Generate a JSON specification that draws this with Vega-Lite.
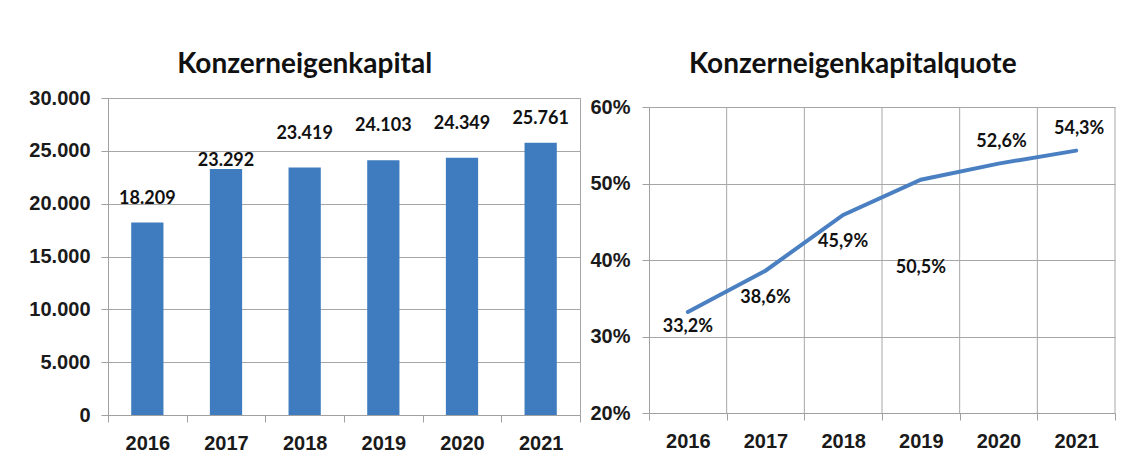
{
  "$schema": "https://vega.github.io/schema/vega-lite/v6.json",
  "padding": {"left": 28, "top": 50, "right": 5, "bottom": 5},
  "background": "white",
  "spacing": 8,
  "config": {
    "locale": {"number": {"decimal": ",", "thousands": ".", "grouping": [3], "currency": ["", " €"]}},
    "view": {"stroke": "#a6a6a6", "strokeWidth": 1},
    "title": {"font": "Lato", "fontSize": 28, "fontWeight": "bold", "color": "#111111", "anchor": "middle", "frame": "bounds"},
    "axis": {
      "labelFont": "Liberation Sans", "labelFontSize": 20, "labelFontWeight": "bold", "labelColor": "#1a1a1a",
      "domainColor": "#a0a0a0", "tickColor": "#a0a0a0", "gridColor": "#a6a6a6", "gridOpacity": 1,
      "tickSize": 7, "labelPadding": 11, "title": null
    },
    "text": {"font": "Lato", "fontSize": 18, "fontWeight": "bold", "color": "#111111"}
  },
  "hconcat": [
    {
      "width": 472, "height": 317,
      "title": {"text": "Konzerneigenkapital", "offset": 9},
      "data": {"values": [
        {"Jahr": "2016", "Eigenkapital": 18209},
        {"Jahr": "2017", "Eigenkapital": 23292},
        {"Jahr": "2018", "Eigenkapital": 23419},
        {"Jahr": "2019", "Eigenkapital": 24103},
        {"Jahr": "2020", "Eigenkapital": 24349},
        {"Jahr": "2021", "Eigenkapital": 25761}
      ]},
      "encoding": {
        "x": {"field": "Jahr", "type": "ordinal", "scale": {"type": "band", "paddingInner": 0, "paddingOuter": 0},
              "axis": {"labelAngle": 0, "tickBand": "extent", "grid": false}},
        "y": {"field": "Eigenkapital", "type": "quantitative", "scale": {"domain": [0, 30000], "nice": false},
              "axis": {"values": [0, 5000, 10000, 15000, 20000, 25000, 30000], "format": ",d", "grid": true}}
      },
      "layer": [
        {"mark": {"type": "bar", "width": {"band": 0.41}, "color": "#3F7CBF"}},
        {"transform": [{"filter": "datum.Jahr == '2017'"}],
         "mark": {"type": "text", "baseline": "alphabetic", "dy": -3},
         "encoding": {"text": {"field": "Eigenkapital", "type": "quantitative", "format": ",d"}}},
        {"transform": [{"filter": "datum.Jahr == '2016' || datum.Jahr == '2021'"}],
         "mark": {"type": "text", "baseline": "alphabetic", "dy": -19},
         "encoding": {"text": {"field": "Eigenkapital", "type": "quantitative", "format": ",d"}}},
        {"transform": [{"filter": "datum.Jahr == '2018' || datum.Jahr == '2019' || datum.Jahr == '2020'"}],
         "mark": {"type": "text", "baseline": "alphabetic", "dy": -29},
         "encoding": {"text": {"field": "Eigenkapital", "type": "quantitative", "format": ",d"}}}
      ]
    },
    {
      "width": 466, "height": 315,
      "title": {"text": "Konzerneigenkapitalquote", "offset": 18},
      "view": {"stroke": null},
      "data": {"values": [
        {"Jahr": "2016", "Quote": 0.332},
        {"Jahr": "2017", "Quote": 0.386},
        {"Jahr": "2018", "Quote": 0.459},
        {"Jahr": "2019", "Quote": 0.505},
        {"Jahr": "2020", "Quote": 0.526},
        {"Jahr": "2021", "Quote": 0.543}
      ]},
      "encoding": {
        "x": {"field": "Jahr", "type": "ordinal", "bandPosition": 0.5,
              "scale": {"type": "band", "paddingInner": 0, "paddingOuter": 0},
              "axis": {"labelAngle": 0, "tickBand": "extent", "grid": false}},
        "y": {"field": "Quote", "type": "quantitative", "scale": {"domain": [0.2, 0.6], "nice": false, "range": [315, 9]},
              "axis": {"values": [0.2, 0.3, 0.4, 0.5, 0.6], "format": ".0%", "grid": true, "labelPadding": 12}}
      },
      "layer": [
        {"mark": {"type": "rule", "color": "#a6a6a6", "strokeWidth": 1},
         "encoding": {
           "x": {"field": "Jahr", "type": "ordinal", "bandPosition": 1},
           "y": {"datum": 0.2}, "y2": {"datum": 0.6}}},
        {"mark": {"type": "line", "color": "#4A80C2", "strokeWidth": 4, "strokeCap": "round"}},
        {"transform": [{"filter": "datum.Jahr == '2016'"}],
         "mark": {"type": "text", "baseline": "middle", "dy": 15},
         "encoding": {"text": {"field": "Quote", "type": "quantitative", "format": ".1%"}}},
        {"transform": [{"filter": "datum.Jahr == '2017' || datum.Jahr == '2018'"}],
         "mark": {"type": "text", "baseline": "middle", "dy": 27},
         "encoding": {"text": {"field": "Quote", "type": "quantitative", "format": ".1%"}}},
        {"transform": [{"filter": "datum.Jahr == '2019'"}],
         "mark": {"type": "text", "baseline": "middle", "dy": 88},
         "encoding": {"text": {"field": "Quote", "type": "quantitative", "format": ".1%"}}},
        {"transform": [{"filter": "datum.Jahr == '2020' || datum.Jahr == '2021'"}],
         "mark": {"type": "text", "baseline": "middle", "dy": -22, "dx": 3},
         "encoding": {"text": {"field": "Quote", "type": "quantitative", "format": ".1%"}}}
      ]
    }
  ]
}
